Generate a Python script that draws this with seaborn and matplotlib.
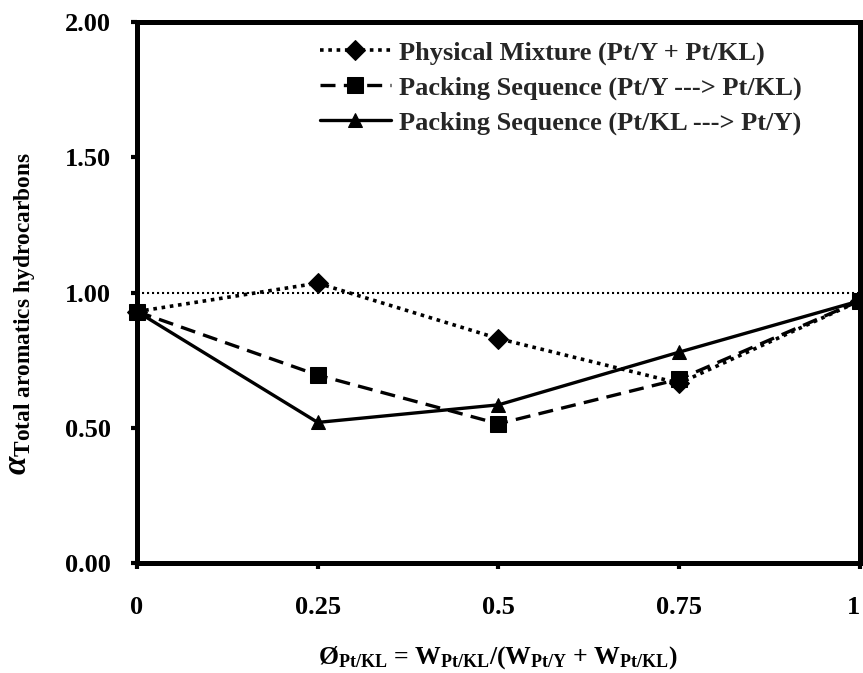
import matplotlib
matplotlib.use("Agg")
import matplotlib.pyplot as plt
import seaborn as sns
import pandas as pd

# Pt/KL weight fraction in the catalyst bed
phi = [0.0, 0.25, 0.5, 0.75, 1.0]

# alpha (total aromatic hydrocarbons) for each bed configuration
physical_mixture = [0.93, 1.035, 0.83, 0.665, 0.97]
seq_y_to_kl = [0.93, 0.695, 0.515, 0.68, 0.97]
seq_kl_to_y = [0.93, 0.52, 0.585, 0.78, 0.97]

labels = [
    "Physical Mixture (Pt/Y + Pt/KL)",
    "Packing Sequence (Pt/Y ---> Pt/KL)",
    "Packing Sequence (Pt/KL ---> Pt/Y)",
]
xtick_labels = ["0", "0.25", "0.5", "0.75", "1"]
ytick_values = [0.0, 0.5, 1.0, 1.5, 2.0]

sns.set_theme(style="white")
plt.rcParams["font.family"] = ["Liberation Serif", "DejaVu Serif"]
plt.rcParams["font.weight"] = "bold"
plt.rcParams["mathtext.fontset"] = "custom"
plt.rcParams["mathtext.rm"] = "Liberation Serif:bold"
plt.rcParams["mathtext.it"] = "Liberation Serif:italic:bold"
plt.rcParams["mathtext.bf"] = "Liberation Serif:bold"

df = pd.DataFrame({
    "phi": phi * 3,
    "alpha": physical_mixture + seq_y_to_kl + seq_kl_to_y,
    "series": [labels[0]] * 5 + [labels[1]] * 5 + [labels[2]] * 5,
})

fig = plt.figure(figsize=(8.63, 6.73), dpi=100)
ax = fig.add_axes([0.1587, 0.1634, 0.8378, 0.8036])

# reference level alpha = 1
ax.axhline(1.0, color="black", lw=1.5, ls=(0, (1, 1.4)), zorder=1)

styles = [
    dict(marker="D", ls=(0, (1, 1.3)), ms=10, lw=2.6),
    dict(marker="s", ls=(0, (4.5, 2.5)), ms=12, lw=2.4),
    dict(marker="^", ls="-", ms=10, lw=2.4),
]
for lab, st in zip(labels, styles):
    sub = df[df["series"] == lab]
    sns.lineplot(data=sub, x="phi", y="alpha", ax=ax, color="black",
                 marker=st["marker"], markersize=st["ms"], linestyle=st["ls"],
                 linewidth=st["lw"], markeredgecolor="black", label=lab,
                 clip_on=False, zorder=3)

ax.set_xlim(0, 1)
ax.set_ylim(0, 2)
ax.set_xticks(phi)
ax.set_xticklabels(xtick_labels)
ax.set_yticks(ytick_values)
ax.set_yticklabels([f"{v:.2f}" for v in ytick_values])

for sp in ax.spines.values():
    sp.set_visible(True)
    sp.set_color("black")
    sp.set_linewidth(3.6)

ax.tick_params(axis="both", which="major", direction="out", length=4.5, width=3,
               color="black", labelsize=19, labelcolor="black", left=True, bottom=True)
ax.tick_params(axis="x", pad=19)
ax.tick_params(axis="y", pad=14)
for t in ax.get_xticklabels() + ax.get_yticklabels():
    t.set_fontweight("bold")
# keep the last x tick label inside the figure
ax.get_xticklabels()[-1].set_horizontalalignment("right")

ax.set_xlabel(r"Ø$_{\mathrm{Pt/KL}}$ = W$_{\mathrm{Pt/KL}}$/(W$_{\mathrm{Pt/Y}}$ + W$_{\mathrm{Pt/KL}}$)",
              fontsize=18.5, fontweight="bold", labelpad=18, color="black")
ax.set_ylabel(r"$\alpha_{\mathrm{Total\ aromatics\ hydrocarbons}}$",
              fontsize=24, fontweight="bold", color="black")
ax.yaxis.set_label_coords(-0.137, 0.462)

leg = ax.legend(loc="upper left", bbox_to_anchor=(0.231, 0.995), frameon=False,
                handlelength=2.7, handletextpad=0.3, labelspacing=0.42,
                borderaxespad=0.2,
                prop={"family": "Liberation Serif", "weight": "bold", "size": 19})

fig.savefig("out.png", dpi=100)
